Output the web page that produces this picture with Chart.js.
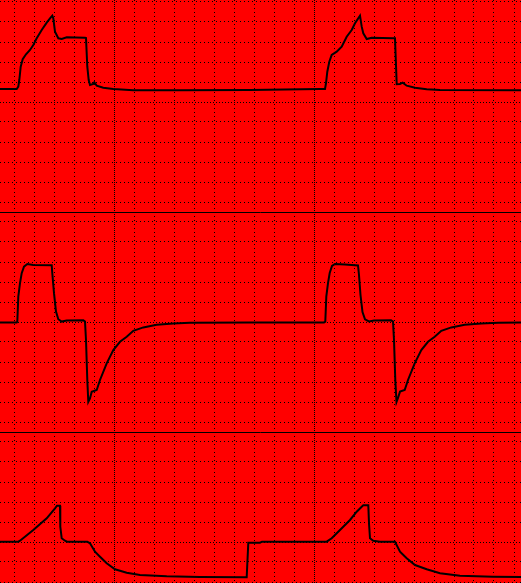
<!DOCTYPE html>
<html>
<head>
<meta charset="utf-8">
<title>Kurvenanzeige</title>
<script src="https://cdn.jsdelivr.net/npm/chart.js@4.4.1/dist/chart.umd.min.js"></script>
<style>
  html, body { margin: 0; padding: 0; background: #ff0000; width: 521px; height: 583px; overflow: hidden; }
  canvas { position: absolute; left: 0; display: block; }
</style>
</head>
<body>
<canvas id="pressure" width="521" height="220" style="top:-8px"></canvas>
<canvas id="flow" width="521" height="220" style="top:212px"></canvas>
<canvas id="volume" width="521" height="220" style="top:432px"></canvas>
<script>
// time axis, 0.2 s per division
var timeTicks = [0, 0.2, 0.4, 0.6, 0.8, 1.0, 1.2, 1.4, 1.6, 1.8, 2.0, 2.2, 2.4,
                 2.6, 2.8, 3.0, 3.2, 3.4, 3.6, 3.8, 4.0, 4.2, 4.4, 4.6, 4.8, 5.0];
var majorTimes = [1.0, 3.0];
var timeMin = -0.14, timeMax = 5.07;

var pressureTicks = [27.5, 25, 20, 15, 10, 5, 0, -5, -10, -15, -20, -25];
var flowTicks = [55, 50, 40, 30, 20, 10, 0, -10, -20, -30, -40, -50];
var volumeTicks = [550, 500, 400, 300, 200, 100, 0, -100, -200, -300, -400, -500];

// pressure (cmH2O)
var pressureTime = [-0.14, 0.027, 0.043, 0.053, 0.067, 0.087, 0.12, 0.16, 0.193, 0.227, 0.277, 0.327,
  0.36, 0.383, 0.393, 0.41, 0.443, 0.477, 0.527, 0.71, 0.72, 0.733, 0.747, 0.76, 0.793, 0.803,
  0.827, 0.893, 0.993, 1.193, 1.66, 2.36, 3.06, 3.11,
  3.12, 3.133, 3.153, 3.177, 3.227, 3.277, 3.327, 3.377, 3.41, 3.46, 3.477, 3.493, 3.527,
  3.577, 3.793, 3.81, 3.827, 3.86, 3.887, 3.927, 4.01, 4.127, 4.26, 5.07];
var pressureValues = [3.25, 3.25, 3.83, 5.5, 8.83, 10.68, 11.93, 13.0, 14.25, 15.93, 18.0, 19.83,
  20.93, 21.58, 20.93, 17.58, 15.93, 15.75, 16.18, 16.08, 16.0, 8.83, 5.5, 4.25, 4.5, 4.93,
  4.08, 3.58, 3.25, 2.93, 2.93, 3.0, 3.25, 3.25,
  4.68, 7.58, 10.08, 11.75, 12.58, 13.83, 16.33, 18.0, 19.68, 21.58, 18.83, 17.18, 15.75,
  16.08, 15.93, 15.93, 4.43, 4.5, 4.83, 4.08, 3.58, 3.18, 3.0, 2.93];

// flow (L/min)
var flowTime = [-0.14, 0.027, 0.033, 0.043, 0.06, 0.077, 0.10, 0.133, 0.193, 0.377, 0.383, 0.40,
  0.42, 0.443, 0.477, 0.527, 0.693, 0.71, 0.72, 0.733, 0.743, 0.76, 0.777, 0.827, 0.86, 0.927,
  0.993, 1.06, 1.127, 1.193, 1.293, 1.427, 1.593, 1.76, 2.36, 3.10,
  3.113, 3.123, 3.14, 3.157, 3.18, 3.21, 3.31, 3.44, 3.45, 3.465, 3.485, 3.51, 3.55, 3.60,
  3.77, 3.79, 3.80, 3.813, 3.825, 3.84, 3.86, 3.907, 3.94, 4.007, 4.073, 4.14, 4.207, 4.273,
  4.373, 4.507, 4.673, 4.84, 5.07];
var flowValues = [-0.2, -0.2, 0.2, 12.7, 19.4, 24.4, 27.7, 29.0, 28.5, 28.4, 24.4, 14.4,
  5.2, 1.4, 0.2, 0.7, 0.9, 0.2, -9.0, -29.0, -39.9, -38.2, -34.9, -34.0, -29.0, -20.7,
  -14.0, -9.9, -7.4, -4.4, -2.7, -1.4, -0.7, -0.4, -0.2, -0.2,
  0.2, 12.7, 19.4, 24.5, 28.0, 29.0, 28.8, 28.3, 23.5, 13.5, 5.0, 1.3, 0.3, 0.7,
  0.9, 0.2, -9.0, -29.0, -40.0, -38.0, -34.8, -34.0, -29.0, -20.7, -14.0, -9.9, -7.4, -4.4,
  -2.7, -1.4, -0.7, -0.4, -0.2];

// volume (mL)
var volumeTime = [-0.14, 0.043, 0.06, 0.193, 0.327, 0.41, 0.43, 0.46, 0.463, 0.477, 0.51, 0.53,
  0.733, 0.76, 0.81, 0.86, 0.927, 1.01, 1.127, 1.26, 1.527, 1.86, 2.327, 2.343, 2.46, 2.48,
  3.127, 3.177, 3.26, 3.36, 3.427, 3.477, 3.493, 3.543, 3.55, 3.56, 3.593, 3.66, 3.81,
  3.86, 3.927, 4.01, 4.127, 4.26, 4.46, 4.79, 5.07];
var volumeValues = [1.5, 1.5, 6.5, 60, 118.5, 168.5, 181.5, 181.5, 76.5, 18.5, 6.5, 1.5,
  1.5, -6.5, -48.5, -73.5, -106.5, -136.5, -153.5, -165, -171.5, -175, -176.5, -3.5, -3.5, 1.5,
  1.5, 18.5, 60, 110, 151.5, 176.5, 183.5, 183.5, 93.5, 18.5, 6.5, 1.5, 1.5,
  -48.5, -81.5, -115, -136.5, -156.5, -168.5, -173.5, -175];

function near(a, list) {
  for (var i = 0; i < list.length; i++) {
    if (Math.abs(a - list[i]) < 1e-6) return true;
  }
  return false;
}

function makePanel(id, times, values, yTicks) {
  var pts = [];
  for (var i = 0; i < times.length; i++) pts.push({x: times[i], y: values[i]});
  var yMax = yTicks[0];
  var ctx = document.getElementById(id).getContext('2d');
  return new Chart(ctx, {
    type: 'line',
    data: {
      datasets: [{
        data: pts,
        borderColor: '#000000',
        borderWidth: 2,
        pointRadius: 0,
        tension: 0,
        fill: false
      }]
    },
    options: {
      responsive: false,
      devicePixelRatio: 1,
      animation: false,
      events: [],
      layout: { padding: 0 },
      plugins: { legend: { display: false }, tooltip: { enabled: false } },
      scales: {
        x: {
          type: 'linear',
          min: timeMin,
          max: timeMax,
          afterBuildTicks: function (axis) {
            axis.ticks = timeTicks.map(function (v) { return {value: v}; });
          },
          ticks: { display: false },
          grid: { color: '#000000', lineWidth: 1, drawTicks: false },
          border: {
            display: false,
            dash: function (c) { return near(c.tick.value, majorTimes) ? [1, 1] : [1, 3]; }
          }
        },
        y: {
          type: 'linear',
          min: -yMax,
          max: yMax,
          afterBuildTicks: function (axis) {
            axis.ticks = yTicks.map(function (v) { return {value: v}; });
          },
          ticks: { display: false },
          grid: { color: '#000000', lineWidth: 1, drawTicks: false },
          border: {
            display: false,
            dash: function (c) {
              if (Math.abs(c.tick.value - yMax) < 1e-6) return [];
              return Math.abs(c.tick.value) < 1e-6 ? [1, 2] : [1, 3];
            }
          }
        }
      }
    }
  });
}

makePanel('pressure', pressureTime, pressureValues, pressureTicks);
makePanel('flow', flowTime, flowValues, flowTicks);
makePanel('volume', volumeTime, volumeValues, volumeTicks);
</script>
</body>
</html>
